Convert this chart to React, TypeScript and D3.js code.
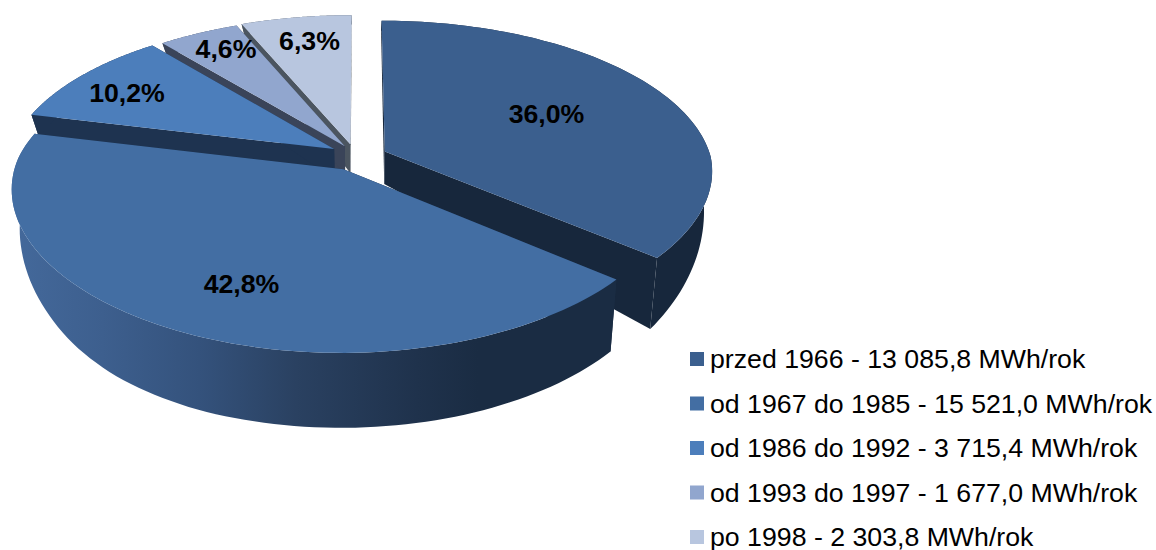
import React from "react";
import * as d3 from "d3";

const categories = ["przed 1966", "od 1967 do 1985", "od 1986 do 1992", "od 1993 do 1997", "po 1998"];
const energy = [13085.8, 15521.0, 3715.4, 1677.0, 2303.8];
const energyLabels = ["13 085,8", "15 521,0", "3 715,4", "1 677,0", "2 303,8"];
const shareLabels = ["36,0%", "42,8%", "10,2%", "4,6%", "6,3%"];

const topColors = ["#3b5f8e", "#436ea3", "#4c7ebb", "#91a6ce", "#b8c6df"];
const wallColors = ["#17273c", "url(#wall2)", "#1e3350", "#3a4459", "#4b5560"];
const sliceOffset: [number, number][] = [[0.0765, -0.036], [-0.05, 0.08], [-0.08, -0.053], [-0.047, -0.072], [-0.03, -0.085]];
const labelAt: [number, number][] = [[546.5, 114], [241.5, 284], [127, 93], [226, 49], [309.5, 41]];
const drawOrder = [4, 3, 2, 0, 1];

const W = 1156, H = 550;
const CX = 360, CY = 157, RX = 326, RY = 152, P = 0.15, PX_FRONT = 0.12, SHRINK = 0.023;
// apparent wall height varies with position in the reference's perspective
const depthRight = d3.scaleLinear().domain([-1.1, -0.3, 0, 0.6, 1.1]).range([9, 22, 34, 71, 75]).clamp(true);
const depthLeft = d3.scaleLinear().domain([-1.1, -0.3, 0, 0.3, 0.55, 0.72, 0.85, 1.0, 1.1]).range([9, 22, 32, 43, 56, 65.5, 71, 74.5, 75]).clamp(true);

function project(X: number, Y: number, z: number): [number, number] {
  const s = 1 / (1 - P * Y);
  const sx = Y > 0 ? 1 / (1 - PX_FRONT * Y) : s;
  const d = X < 0 ? depthLeft(Y) : depthRight(Y);
  return [CX + RX * X * sx * (1 - SHRINK * z), CY + RY * Y * s + d * z];
}

const pie = d3.pie<number>().sort(null);
const arcs = pie(energy);
const line = d3.line();

function Slice({ i }: { i: number }) {
  const a = arcs[i];
  const [ox, oy] = sliceOffset[i];
  const rim = (t: number, z: number) => project(ox + Math.sin(t), oy - Math.cos(t), z);
  const apex = (z: number) => project(ox, oy, z);
  const n = 96;
  const ang = d3.range(n + 1).map((k) => a.startAngle + ((a.endAngle - a.startAngle) * k) / n);
  const top = line([apex(0), ...ang.map((t) => rim(t, 0))]) + "Z";
  const outer = line([...ang.map((t) => rim(t, 0)), ...[...ang].reverse().map((t) => rim(t, 1))]) + "Z";
  const edge = (t: number) => line([apex(0), rim(t, 0), rim(t, 1), apex(1)]) + "Z";
  const wall = wallColors[i];
  return (
    <g>
      <path d={edge(a.startAngle)} fill={i === 1 ? "#1a2c43" : wall} />
      <path d={edge(a.endAngle)} fill={i === 1 ? "#1a2c43" : wall} />
      <path d={outer} fill={wall} />
      <path d={top} fill={topColors[i]} />
    </g>
  );
}

export default function App() {
  return (
    <svg width={W} height={H} style={{ position: "absolute", left: 0, top: 0, display: "block" }} fontFamily="'Liberation Sans', Arial, sans-serif">
      <defs>
        <linearGradient id="wall2" gradientUnits="userSpaceOnUse" x1={12} x2={617} y1={0} y2={0}>
          <stop offset="0" stopColor="#44699b" />
          <stop offset="0.15" stopColor="#3d5f8e" />
          <stop offset="0.31" stopColor="#34527c" />
          <stop offset="0.47" stopColor="#2a4161" />
          <stop offset="0.67" stopColor="#1f324c" />
          <stop offset="0.77" stopColor="#1a2c43" />
          <stop offset="1" stopColor="#1a2c43" />
        </linearGradient>
      </defs>
      {drawOrder.map((i) => <Slice key={i} i={i} />)}
      {shareLabels.map((t, i) => (
        <text key={t} x={labelAt[i][0]} y={labelAt[i][1]} textAnchor="middle" dominantBaseline="central" fontSize={26.7} fontWeight="bold" fill="#000">{t}</text>
      ))}
      {categories.map((c, i) => {
        const y = 359 + i * 44.5;
        return (
          <g key={c}>
            <rect x={690} y={y - 7} width={14} height={14} fill={topColors[i]} />
            <text x={710} y={y} dominantBaseline="central" fontSize={26.7} fill="#000">{`${c} - ${energyLabels[i]} MWh/rok`}</text>
          </g>
        );
      })}
    </svg>
  );
}
